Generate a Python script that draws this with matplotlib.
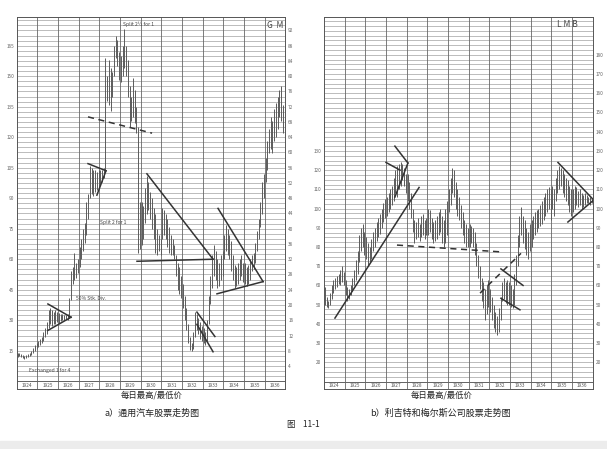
import matplotlib
matplotlib.use("Agg")
import matplotlib.pyplot as plt
from matplotlib.patches import Rectangle
import numpy as np

plt.rcParams['font.family'] = ['Noto Sans CJK SC', 'DejaVu Sans']

YEARS = list(range(1924, 1937))

# General Motors, monthly low / high on the left-hand scale (1924 .. 1936)
gm_low = [12, 12.5, 12, 11.5, 11, 11.5, 12, 12.5, 13, 14, 15, 16,
          17, 18, 19, 20, 22, 23, 26, 28, 27, 28, 28, 29,
          28.5, 29.5, 30, 30, 30.5, 30, 31, 40, 48, 50, 51, 53,
          56, 60, 64, 68, 72, 80, 90, 92, 91, 93, 94, 95,
          97, 98, 100, 104, 138, 136, 133, 140, 150, 159, 155, 148,
          147, 150, 154, 150, 140, 125, 128, 130, 127, 122, 63, 65,
          67, 70, 78, 82, 84, 80, 75, 70, 63, 62, 64, 62,
          70, 72, 70, 66, 63, 62, 62, 60, 52, 45, 43, 41,
          36, 30, 25, 19, 15.5, 15, 16, 22, 25, 23, 21, 20,
          19, 18, 20, 28, 38, 46, 52, 50, 46, 47, 50, 52,
          60, 64, 62, 60, 54, 50, 46, 47, 48, 50, 52, 49,
          48, 47, 48, 50, 54, 55, 58, 64, 70, 76, 82, 90,
          98, 104, 112, 114, 112, 118, 120, 124, 130, 128, 122, 120]
gm_high = [14, 14, 13.5, 13, 12.5, 13, 13.5, 14, 15, 16.5, 18, 19,
           20, 21, 22, 24, 26, 29, 35, 36, 35, 34, 35, 34,
           33.5, 33, 33, 32.5, 32.5, 33, 41, 54, 56, 63, 58, 60,
           66, 70, 75, 78, 88, 92, 106, 105, 104, 104, 103, 104,
           104, 104, 105, 159, 150, 158, 154, 152, 165, 170, 168, 162,
           160, 165, 173, 165, 158, 145, 140, 149, 143, 135, 125, 88,
           88, 86, 95, 101, 98, 93, 90, 85, 82, 75, 72, 70,
           85, 84, 82, 80, 76, 72, 70, 67, 62, 58, 56, 52,
           48, 42, 36, 28, 22, 19, 24, 34, 33, 31, 29, 27,
           26, 24, 30, 42, 52, 62, 67, 64, 60, 58, 62, 64,
           72, 77, 75, 72, 69, 62, 57, 56, 58, 60, 62, 58,
           58, 56, 57, 60, 62, 63, 68, 74, 80, 88, 98, 102,
           110, 118, 124, 130, 128, 134, 137, 140, 143, 145, 136, 133]

# Liggett & Myers "B", monthly low / high (1924 .. 1936)
lmb_low = [50, 49, 48, 50, 53, 56, 58, 59, 61, 60, 62, 60,
           55, 52, 53, 55, 57, 60, 63, 66, 72, 78, 80, 76,
           74, 70, 72, 74, 78, 80, 83, 85, 87, 90, 93, 95,
           96, 98, 100, 102, 104, 108, 106, 110, 112, 115, 112, 108,
           104, 100, 95, 88, 82, 84, 85, 83, 85, 86, 84, 86,
           86, 88, 84, 82, 83, 84, 86, 88, 82, 80, 82, 86,
           98, 102, 108, 106, 100, 96, 94, 90, 86, 82, 80, 80,
           80, 82, 80, 76, 70, 64, 58, 52, 48, 42, 45, 49,
           46, 42, 38, 36, 34, 36, 42, 52, 53, 51, 50, 50,
           49, 48, 50, 60, 70, 80, 86, 82, 79, 76, 74, 78,
           80, 84, 86, 88, 90, 91, 92, 94, 96, 98, 100, 94,
           100, 96, 104, 108, 110, 112, 108, 106, 104, 102, 98, 96,
           98, 100, 102, 101, 102, 100, 101, 102, 103, 103, 102, 103]
lmb_high = [59, 54, 52, 56, 60, 63, 64, 65, 66, 68, 70, 67,
            63, 59, 58, 60, 64, 68, 73, 78, 86, 90, 92, 88,
            85, 82, 80, 84, 88, 90, 93, 95, 97, 100, 103, 105,
            106, 108, 110, 112, 116, 120, 122, 123, 124, 123, 121, 118,
            118, 114, 108, 100, 94, 93, 95, 92, 96, 97, 94, 95,
            100, 99, 95, 93, 94, 96, 98, 100, 96, 94, 100, 104,
            110, 116, 121, 120, 114, 110, 106, 102, 98, 94, 92, 90,
            92, 91, 90, 88, 82, 76, 70, 64, 62, 58, 60, 63,
            58, 54, 50, 46, 44, 48, 54, 62, 64, 62, 63, 62,
            60, 58, 66, 76, 86, 96, 101, 96, 94, 90, 88, 92,
            94, 96, 98, 99, 100, 102, 104, 106, 108, 110, 111, 110,
            112, 110, 116, 120, 122, 121, 120, 118, 116, 115, 112, 110,
            110, 112, 111, 109, 110, 108, 107, 108, 107, 106, 106, 105]

# trend lines: (t0, v0, t1, v1)
gm_lines = [(1925.51, 38, 1926.63, 31.5), (1925.51, 25, 1926.63, 31.5),
            (1927.45, 107, 1928.32, 103.5), (1927.88, 91.5, 1928.32, 103.5),
            (1930.30, 102, 1933.50, 60), (1929.82, 59, 1933.50, 60),
            (1932.72, 34, 1933.59, 22), (1932.72, 28, 1933.50, 14.5),
            (1933.74, 85, 1935.92, 49), (1933.69, 43, 1935.92, 49)]
gm_dashed = [(1927.45, 130, 1930.55, 122)]
lmb_lines = [(1924.53, 43, 1928.60, 111),
             (1927.00, 124, 1927.68, 120), (1927.43, 132.5, 1928.06, 123.7),
             (1927.43, 106, 1928.06, 123.7),
             (1932.56, 68.6, 1933.63, 60), (1932.56, 53.3, 1933.48, 47.3),
             (1935.32, 124, 1937.0, 105), (1935.80, 93, 1937.0, 104)]
lmb_dashed = [(1927.53, 81, 1932.51, 77.5), (1931.55, 56, 1933.53, 76.7)]

W, H = 607, 449
fig = plt.figure(figsize=(W / 100, H / 100), dpi=100)
fig.patch.set_facecolor("white")
fig.patches.append(Rectangle((0, 0), 1, 8 / H, transform=fig.transFigure,
                             color="#ececec", zorder=0))

GRID = "#8a8a8a"
BAR = "#5a5a5a"
INK = "#333333"


def panel(left_px, ylim, row_top, low, high, lines, dashed, lticks, rticks, rscale):
    ax = fig.add_axes([left_px / W, 1 - 389 / H, 268.7 / W, 372 / H])
    ax.set_xlim(1924, 1937)
    ax.set_ylim(*ylim)
    for s in ax.spines.values():
        s.set_color("#555")
        s.set_linewidth(0.7)
    # horizontal ruling
    ax.hlines(np.arange(row_top, ylim[1], 2.5), 1924, 1937, color=GRID, lw=0.4, zorder=1)
    ax.axhline(row_top, color="#555", lw=0.6, zorder=1)
    for y in YEARS[1:]:
        ax.axvline(y, color="#666", lw=0.6, zorder=1)
    for y in YEARS:
        ax.text(y + 0.5, (row_top + ylim[0]) / 2, str(y), ha="center", va="center",
                fontsize=3.4, color="#555")
    t = 1924 + (np.arange(len(low)) + 0.5) / 12
    ax.vlines(t, low, high, color=BAR, lw=0.7, zorder=2)
    for t0, v0, t1, v1 in lines:
        ax.plot([t0, t1], [v0, v1], color=INK, lw=1.1, zorder=3)
    for t0, v0, t1, v1 in dashed:
        ax.plot([t0, t1], [v0, v1], color=INK, lw=1.1, ls=(0, (4, 3)), zorder=3)
    ax.set_xticks([])
    ax.set_yticks(lticks)
    ax.set_yticklabels([str(v) for v in lticks])
    ax.tick_params(axis="y", length=0, labelsize=3.4, labelcolor="#666", pad=2)
    ax2 = ax.twinx()
    ax2.set_ylim(ylim[0] * rscale, ylim[1] * rscale)
    ax2.set_yticks(rticks)
    ax2.set_yticklabels([str(v) for v in rticks])
    ax2.tick_params(axis="y", length=0, labelsize=3.4, labelcolor="#666", pad=2)
    for s in ax2.spines.values():
        s.set_visible(False)
    return ax


ax_gm = panel(16.7, (-3.8, 179.1), 0, gm_low, gm_high, gm_lines, gm_dashed,
              list(range(15, 166, 15)), list(range(4, 93, 4)), 8 / 15)
ax_lmb = panel(324, (6.1, 199.7), 10, lmb_low, lmb_high, lmb_lines, lmb_dashed,
               list(range(20, 131, 10)), list(range(20, 181, 10)), 1.0)

note = dict(fontsize=3.6, style="italic", color="#444", ha="center", va="center")
ax_gm.text(1929.87, 175.7, "Split 2½ for 1", **note)
ax_gm.text(1928.66, 78.3, "Split 2 for 1", **note)
ax_gm.text(1927.6, 40.9, "50% Stk. Div.", **note)
ax_gm.text(1925.61, 5.5, "Exchanged 1 for 4", **note)
ax_gm.text(1936.5, 174.7, "G  M", fontsize=6, color="#444", ha="center", va="center")
ax_lmb.text(1935.76, 195.6, "L M B", fontsize=6, color="#444", ha="center", va="center")

cap = dict(ha="center", va="center", color="#222")
fig.text(152 / W, 1 - 395 / H, "每日最高/最低价", fontsize=6, **cap)
fig.text(442 / W, 1 - 395 / H, "每日最高/最低价", fontsize=6, **cap)
fig.text(152 / W, 1 - 413 / H, "a）通用汽车股票走势图", fontsize=6.5, **cap)
fig.text(440 / W, 1 - 413 / H, "b）利吉特和梅尔斯公司股票走势图", fontsize=6.5, **cap)
fig.text(303 / W, 1 - 425 / H, "图    11-1", fontsize=6, **cap)

fig.savefig("out.png", dpi=100)
